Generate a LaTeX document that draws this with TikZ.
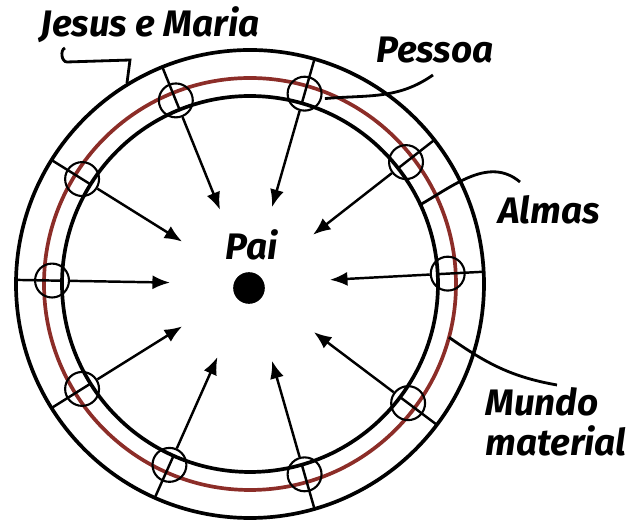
\documentclass[tikz,border=0pt]{standalone}
\usepackage{fontspec}
\setsansfont{Fira Sans}
\usetikzlibrary{arrows.meta}
\definecolor{mundo}{RGB}{140,45,40}

\begin{document}
\begin{tikzpicture}[>={Latex[length=10pt,width=8pt]},font=\sffamily\bfseries\itshape\fontsize{21}{23}\selectfont,x=0.02cm,y=0.02cm,
  ring/.style={line width=2.1pt},
  soul/.style={circle,draw,line width=1.2pt,minimum size=19.3pt,inner sep=0pt},
  lead/.style={line width=1.6pt}]
\useasboundingbox (-250,-239) rectangle (377,284);
% the three rings
\draw[ring] (0,0) circle (234);
\draw[ring,mundo] (0,0) circle (206);
\draw[ring] (0,0) circle (188);
% souls around the world, pointing to the Father
\foreach \a [count=\i] in {3,38,74,112,148,179,212,246,286,323}{
  \node[soul] (s\i) at (\a:198) {};
  \coordinate (t\i) at (\a:80);
  \draw[line width=1.4pt] (\a:188) -- (\a:234);
  \draw[->,line width=1.4pt] (s\i) -- (t\i);
}
\node[circle,fill,minimum size=18pt,inner sep=0pt] (pai) at (-1,-4) {};
\node (lpai) at (2,39) {Pai};
% labels and leaders
\node (jesus) at (-100,259) {Jesus e Maria};
\coordinate (j1) at (-185,236);
\coordinate (j2) at (-120,224);
\coordinate (j3) at (-123,201);
\draw[lead] (j1) to[out=200,in=180] (-183,222) -- (j2) -- (j3);
\node (pessoa) at (185,234) {Pessoa};
\coordinate (p1) at (183,209);
\coordinate (p2) at (68:200);
\draw[lead] (p1) to[out=215,in=5] (p2);
\node (almas) at (299,74) {Almas};
\coordinate (a1) at (270,102);
\coordinate (a2) at (25:189);
\draw[lead] (a1) to[out=140,in=30] (a2);
\node[align=left] (mundo) at (306,-138) {Mundo\\material};
\coordinate (m1) at (307,-101);
\coordinate (m2) at (-15:206);
\draw[lead] (m1) to[out=170,in=-35] (m2);
\end{tikzpicture}
\end{document}
